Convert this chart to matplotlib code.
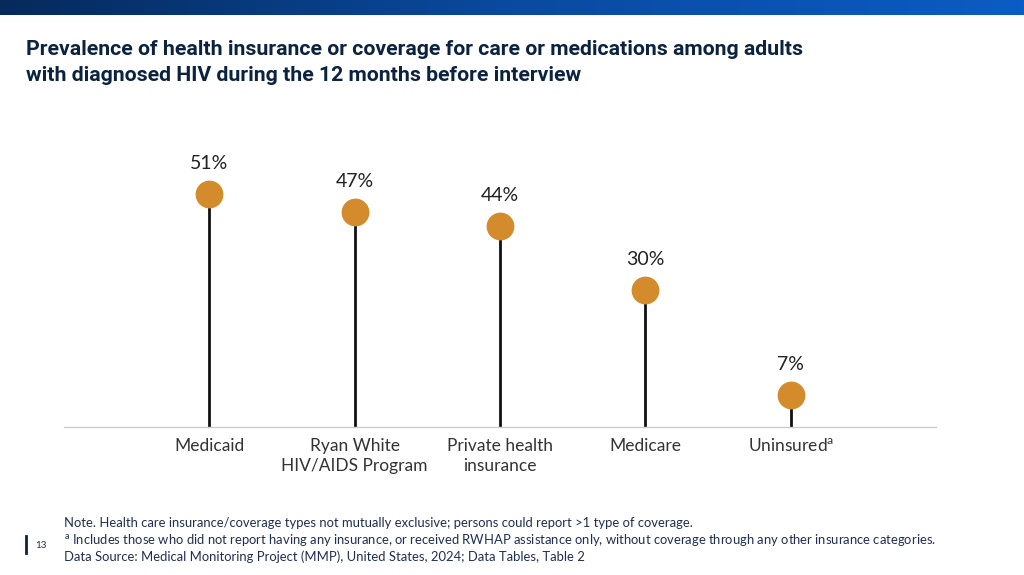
import numpy as np
import matplotlib.pyplot as plt
from matplotlib.colors import LinearSegmentedColormap

# Datos del grafico
categories = ['Medicaid', 'Ryan White\nHIV/AIDS Program', 'Private health\ninsurance',
              'Medicare', 'Uninsured$^{\\mathregular{a}}$']
values = [51, 47, 44, 30, 7]
value_labels = ['51%', '47%', '44%', '30%', '7%']

title = ('Prevalence of health insurance or coverage for care or medications among adults\n'
         'with diagnosed HIV during the 12 months before interview')
notes = [
    'Note. Health care insurance/coverage types not mutually exclusive; persons could report >1 type of coverage.',
    '$^{\\mathregular{a}}$ Includes those who did not report having any insurance, or received RWHAP assistance only, '
    'without coverage through any other insurance categories.',
    'Data Source: Medical Monitoring Project (MMP), United States, 2024; Data Tables, Table 2',
]

plt.rcParams['font.family'] = ['Lato', 'DejaVu Sans']

fig = plt.figure(figsize=(10.24, 5.75), dpi=100)
fig.patch.set_facecolor('white')

# Banda superior con degradado
band = fig.add_axes([0, 1 - 15 / 575, 1, 15 / 575])
grad = np.linspace(0, 1, 256).reshape(1, -1)
cmap = LinearSegmentedColormap.from_list('band', ['#062a5c', '#0a4aa0', '#0b5cc4'])
band.imshow(grad, aspect='auto', cmap=cmap, extent=[0, 1, 0, 1])
band.axis('off')

# Titulo
fig.text(26 / 1024, 1 - 40 / 575, title, fontsize=15.3, fontweight='bold',
         family=['Roboto', 'DejaVu Sans'], color='#0c2340', va='top', ha='left',
         linespacing=1.45)

# Grafico de piruleta
ax = fig.add_axes([64 / 1024, 148 / 575, 872 / 1024, 274 / 575])
x = np.arange(len(categories))
ax.vlines(x, 0, values, color='#111111', linewidth=2, zorder=2)
ax.plot(x, values, 'o', color='#d38b2c', markersize=19, zorder=3)
for xi, v, lab in zip(x, values, value_labels):
    ax.annotate(lab, (xi, v), xytext=(0, 16), textcoords='offset points',
                ha='center', va='bottom', fontsize=14, color='#222222')

ax.set_xlim(-1, 5)
ax.set_ylim(0, 60)
ax.set_yticks([])
ax.set_xticks(x)
ax.set_xticklabels(categories, fontsize=12.5, color='#333333', linespacing=1.3)
ax.tick_params(axis='x', length=0, pad=8)
for s in ['top', 'right', 'left']:
    ax.spines[s].set_visible(False)
ax.spines['bottom'].set_color('#cccccc')
ax.spines['bottom'].set_linewidth(1)

# Notas al pie
for i, n in enumerate(notes):
    fig.text(64 / 1024, 1 - (523 + 17 * i) / 575, n, fontsize=9.4, color='#1f2f4f',
             va='center', ha='left')

# Numero de pagina
fig.add_artist(plt.Line2D([26 / 1024, 26 / 1024], [1 - 536 / 575, 1 - 553 / 575],
                          color='#0c2340', linewidth=2))
fig.text(35 / 1024, 1 - 545 / 575, '13', fontsize=7, color='#1f2f4f', va='center')

fig.savefig('out.png', dpi=100)
